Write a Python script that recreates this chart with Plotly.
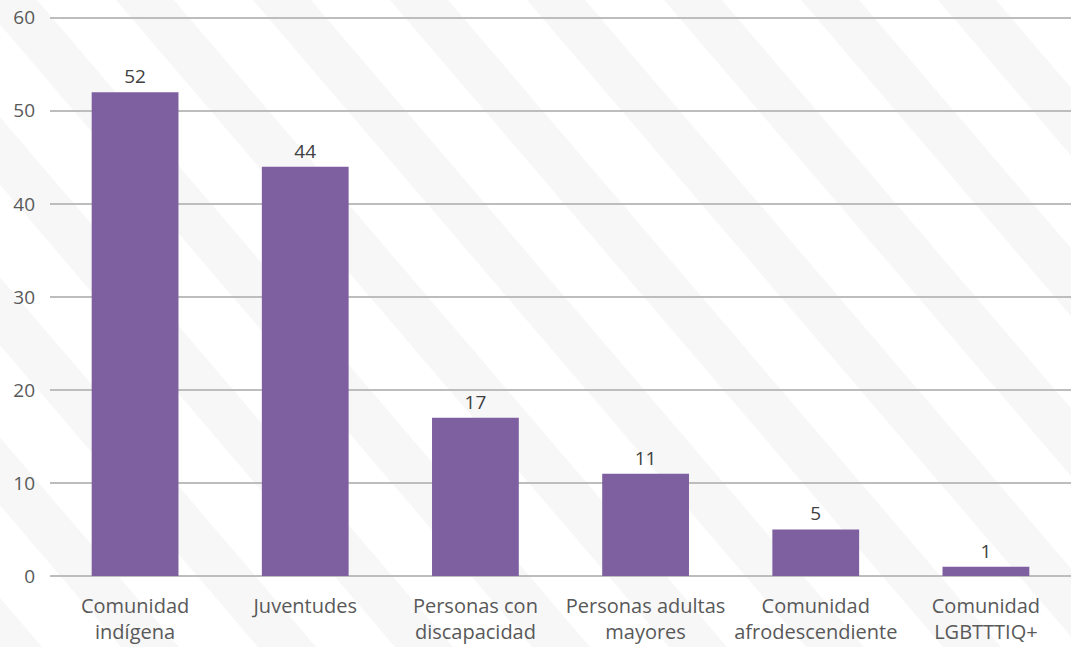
import plotly.graph_objects as go

categories = ["Comunidad<br>indígena", "Juventudes", "Personas con<br>discapacidad",
              "Personas adultas<br>mayores", "Comunidad<br>afrodescendiente", "Comunidad<br>LGBTTTIQ+"]
values = [52, 44, 17, 11, 5, 1]
y_ticks = [0, 10, 20, 30, 40, 50, 60]

FONT = "Open Sans"
W, H = 1071, 647
ML, MR, MT, MB = 50, 0, 15, 71

fig = go.Figure(go.Bar(
    x=categories, y=values,
    marker=dict(color="#7E60A0", line=dict(width=0)),
    text=values, textposition="outside",
    textfont=dict(family=FONT, size=19, color="#404040"),
    cliponaxis=False,
))

# faint decorative diagonal background bands (pixel -> paper conversion)
pw, ph = W - ML - MR, H - MT - MB
def px(x):
    return (x - ML) / pw
def py(y):
    return (H - MB - y) / ph

shapes = []
dx = H / 1.17
band = 58
for k in range(-6, 9):
    x0 = 116 + 137 * k
    path = (f"M {px(x0)},{py(0)} L {px(x0 + band)},{py(0)} "
            f"L {px(x0 + band + dx)},{py(H)} L {px(x0 + dx)},{py(H)} Z")
    shapes.append(dict(type="path", xref="paper", yref="paper", path=path,
                       fillcolor="#F7F7F8", line=dict(width=0), layer="below"))

fig.update_layout(
    width=W, height=H,
    margin=dict(l=ML, r=MR, t=MT, b=MB),
    paper_bgcolor="white", plot_bgcolor="rgba(0,0,0,0)",
    bargap=0.49,
    showlegend=False,
    font=dict(family=FONT, size=18, color="#595959"),
    shapes=shapes,
)
fig.update_yaxes(range=[0, 60.3], tickvals=y_ticks, showgrid=True, gridcolor="#BDBDBD", gridwidth=2,
                 zeroline=True, zerolinecolor="#BDBDBD", zerolinewidth=2, automargin=False,
                 ticklabelstandoff=14, tickfont=dict(size=19, color="#595959"), showline=False)
fig.update_xaxes(showgrid=False, ticklabelstandoff=16, automargin=False,
                 tickfont=dict(size=20, color="#595959"), showline=False)

fig.write_html("out.html", config={"displayModeBar": False},
               post_script="document.body.style.margin='0';document.body.style.overflow='hidden';")
